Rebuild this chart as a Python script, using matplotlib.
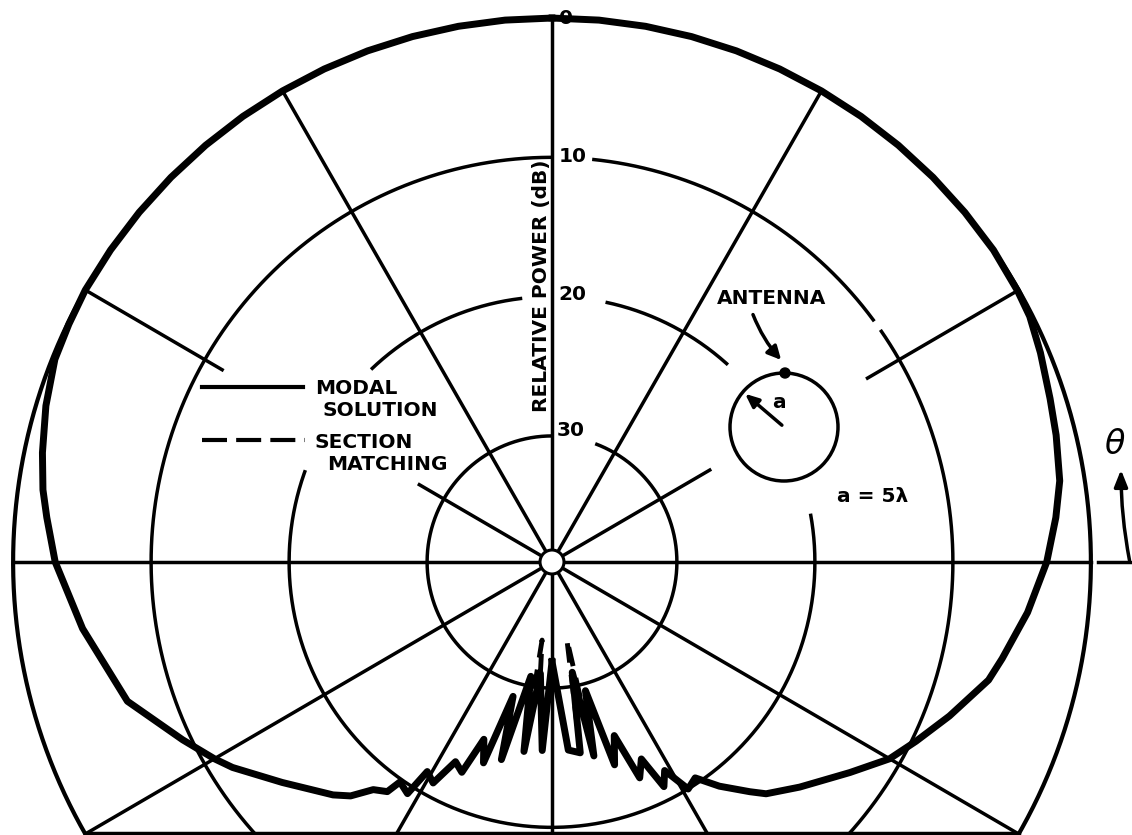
import numpy as np
import matplotlib.pyplot as plt
from matplotlib.patches import Ellipse, Circle, FancyArrowPatch

# ---- data -------------------------------------------------------------
# grid rings (dB below peak) and spoke directions (deg from top, clockwise)
ring_db = [0, 10, 20, 30]
spoke_deg = list(range(0, 360, 30))

# modal solution, right half (angle from top, clockwise) in dB
right_deg = [0, 5, 10, 15, 20, 25, 30, 35, 40, 45, 50, 55, 60, 63, 67, 72, 76,
             81, 85, 90, 96, 102, 105, 111, 116, 120, 125, 132, 137, 139, 143,
             146.2, 148.8, 151.4, 153.3, 155.4, 157.7, 160.1, 162.7, 165.3,
             167.7, 169.5, 171.5, 175, 180]
right_db = [0.0, 0.0, 0.0, 0.0, 0.0, 0.0, 0.0, 0.0, 0.0, 0.0, 0.0, 0.0, 0.1,
            0.2, 0.6, 1.1, 1.4, 1.8, 2.4, 3.2, 4.4, 5.7, 6.3, 8.2, 9.7, 10.8,
            12.7, 14.9, 16.3, 17.2, 18.9, 20.4, 20.0, 22.0, 21.0, 23.5, 22.3,
            25.8, 23.8, 29.5, 24.8, 31.0, 25.2, 25.5, 31.9]
# modal solution, left half (from the top counter-clockwise to the back)
left_deg = [360, 355, 350, 345, 340, 335, 330, 325, 320, 315, 310, 305, 300,
            296, 292, 287, 282, 278, 275, 270, 262, 252, 244.5, 240, 237.5,
            231, 223.5, 221, 218.4, 215.9, 214.9, 212.2, 211.0, 208.5, 206.0,
            203.4, 201.2, 199.0, 196.3, 194.5, 190.6, 188.5, 186, 183, 180]
left_db = [0.0, 0.0, 0.0, 0.0, 0.0, 0.0, 0.0, 0.0, 0.0, 0.0, 0.0, 0.0, 0.0,
           0.1, 0.2, 0.7, 1.3, 1.8, 2.3, 3.05, 4.7, 6.7, 9.4, 10.8, 11.6, 13.9,
           16.0, 16.8, 18.2, 18.7, 19.8, 19.4, 21.5, 21.0, 23.1, 22.6, 25.4,
           23.8, 29.0, 24.4, 30.7, 25.3, 31.0, 25.5, 31.9]

# section matching, only differs from the modal curve near the back
match_deg = [165.3, 167.7, 169.0, 171.5, 175, 180, 183, 186, 187.3, 188.5,
             190.6, 194.5]
match_db = [29.5, 24.8, 33.4, 25.2, 25.5, 31.9, 25.5, 31.0, 33.4, 25.3, 30.7,
            24.4]

# ---- geometry of the scanned chart (pixels) ---------------------------
CX, CY = 552, 562          # pole
SX, SY = 13.8, 13.93       # pixels per dB
R0 = 39.05                 # 0 dB ring radius in dB units


def to_xy(deg, db):
    r = R0 - np.asarray(db, dtype=float)
    ph = np.radians(np.asarray(deg, dtype=float))
    return CX + SX * r * np.sin(ph), CY - SY * r * np.cos(ph)


fig = plt.figure(figsize=(11.32, 8.35), dpi=100)
ax = fig.add_axes([0, 0, 1, 1])
ax.set_xlim(0, 1132)
ax.set_ylim(835, 0)
ax.axis('off')

LW = 2.5
K = 'black'

# rings with the gaps left for labels / inset
ring_gaps = {
    0: [(0, 2.8)],
    10: [(0, 5.7), (53.6, 54.8)],
    20: [(0, 11.6), (42.0, 79.5), (290.3, 316.3), (353.7, 360)],
    30: [(0, 20.2)],
}
for db in ring_db:
    a = np.arange(0, 360.01, 0.25)
    keep = np.ones_like(a, dtype=bool)
    for g0, g1 in ring_gaps[db]:
        keep &= ~((a > g0) & (a < g1))
    a = np.where(keep, a, np.nan)
    x, y = to_xy(a, np.full_like(a, db))
    ax.plot(x, y, color=K, lw=LW + (0.5 if db == 0 else 0), solid_capstyle='butt')

# spokes, some interrupted by the legend and the inset
spoke_gaps = {60: (13.2, 26.4), 300: (11.1, 27.6)}
for d in spoke_deg:
    if d in spoke_gaps:
        r0, r1 = spoke_gaps[d]
        segs = [(0, r0), (r1, R0)]
    else:
        segs = [(0, R0)]
    for s0, s1 in segs:
        x, y = to_xy([d, d], [R0 - s0, R0 - s1])
        ax.plot(x, y, color=K, lw=LW)

# bottom edge of the sheet
yb = 833
xb = SX * np.sqrt(R0 ** 2 - ((yb - CY) / SY) ** 2)
ax.plot([CX - xb, CX + xb], [yb, yb], color=K, lw=LW)

# hole at the pole
ax.add_patch(Ellipse((CX, CY), 2 * 12, 2 * 12, facecolor='white',
                     edgecolor=K, lw=2.2, zorder=5))

# pattern curves
ax.plot(*to_xy(match_deg, match_db), color=K, lw=3.5, dashes=(4, 2.5),
        solid_capstyle='round', zorder=3)
ax.plot(*to_xy(right_deg, right_db), color=K, lw=5, solid_joinstyle='round', zorder=4)
ax.plot(*to_xy(left_deg, left_db), color=K, lw=5, solid_joinstyle='round', zorder=4)

# ---- labels -----------------------------------------------------------
tf = dict(fontsize=14.5, fontweight='bold', color=K, family='DejaVu Sans')
for db, (lx, ly) in zip(ring_db, [(566, 19), (573, 157), (572, 294), (571, 430)]):
    ax.text(lx, ly, str(db), ha='center', va='center', **tf)
ax.text(541, 286, 'RELATIVE POWER (dB)', rotation=90, ha='center', va='center', **tf)

# legend
ax.plot([202, 303], [387, 387], color=K, lw=LW + 0.5)
ax.plot([202, 305], [440, 440], color=K, lw=LW + 0.5, dashes=(6, 2.2))
ax.text(315, 389, 'MODAL', ha='left', va='center', **tf)
ax.text(323, 410, 'SOLUTION', ha='left', va='center', **tf)
ax.text(315, 442, 'SECTION', ha='left', va='center', **tf)
ax.text(327, 464, 'MATCHING', ha='left', va='center', **tf)

# antenna inset
icx, icy, ir = 784, 427, 54
ax.add_patch(Ellipse((icx, icy), 2 * ir, 2 * ir, fill=False, edgecolor=K, lw=LW))
ax.add_patch(Circle((icx + 1, icy - ir), 5, color=K))
ax.annotate('', xy=(icx - 41, icy - 35), xytext=(icx, icy),
            arrowprops=dict(arrowstyle='-|>,head_length=0.8,head_width=0.35',
                            color=K, lw=LW))
ax.text(779, 403, 'a', ha='center', va='center', **tf)
ax.text(772, 299, 'ANTENNA', ha='center', va='center', **tf)
ax.add_patch(FancyArrowPatch((752, 312), (783, 362),
                             connectionstyle='arc3,rad=0.1',
                             arrowstyle='-|>,head_length=8,head_width=4',
                             color=K, lw=LW))
ax.text(873, 497, 'a = 5\u03bb', ha='center', va='center', **tf)

# theta direction arrow
ax.plot([1098, 1130], [CY, CY], color=K, lw=LW)
ax.add_patch(FancyArrowPatch((1130, CY + 1), (1121, 467),
                             connectionstyle='arc3,rad=-0.05',
                             arrowstyle='-|>,head_length=10,head_width=4',
                             color=K, lw=LW))
ax.text(1115, 445, '\u03b8', ha='center', va='center', fontsize=24,
        style='italic', color=K)

fig.savefig('out.png', dpi=100)
